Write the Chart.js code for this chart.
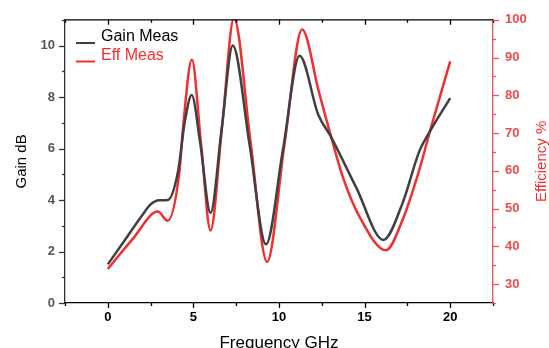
<!DOCTYPE html>
<html>
<head>
<meta charset="utf-8">
<script src="https://cdn.jsdelivr.net/npm/chart.js@4.4.1/dist/chart.umd.min.js"></script>
<style>
html,body{margin:0;padding:0;background:#fff;}
#wrap{width:549px;height:348px;}
</style>
</head>
<body>
<div id="wrap"><canvas id="c" width="549" height="348"></canvas></div>
<script>
// ---- data ----
const freqGain = [0, 1, 2, 2.5, 3, 3.5, 4.1, 4.5, 4.9, 5.4, 6.0, 6.65, 7.3, 8.28, 9.24, 10.23, 11.2, 12.3, 13.0, 14.5, 16.1, 17.2, 18.2, 18.8, 20];
const gainVals = [1.5, 2.45, 3.4, 3.83, 3.99, 4.0, 5.1, 7.05, 8.08, 6.2, 3.5, 6.75, 10.0, 6.15, 2.28, 5.95, 9.6, 7.3, 6.5, 4.5, 2.45, 3.85, 5.9, 6.65, 7.96];
const freqEff = [0, 1.46, 2.92, 3.5, 4.19, 4.4, 4.91, 5.45, 6.0, 6.68, 7.37, 8.33, 9.3, 10.32, 11.35, 12.33, 12.96, 13.74, 14.72, 16.25, 17.2, 18.23, 18.81, 20];
const effVals = [34, 42, 49.2, 46.8, 60, 71.7, 89.4, 67, 44.2, 72, 100.5, 68, 35.9, 67, 97.4, 80.9, 70.4, 58.2, 47.7, 39, 46.8, 60.8, 70.4, 89];
const xTicks = [0, 5, 10, 15, 20];
const gainTicks = [0, 2, 4, 6, 8, 10];
const effTicks = [30, 40, 50, 60, 70, 80, 90, 100];
const seriesNames = ['Gain Meas', 'Eff Meas'];
const xTitle = 'Frequency GHz';
const yTitle = 'Gain dB';
const y1Title = 'Efficiency %';

const FONT = "'Liberation Sans', Arial, sans-serif";
const GAIN_COLOR = '#404040';
const EFF_COLOR = '#f03030';
const AXIS_RED = '#ee5555';

const toPts = (xs, ys) => xs.map((x, i) => ({x: x, y: ys[i]}));
const setTicks = vals => scale => { scale.ticks = vals.map(v => ({value: v})); };

const decor = {
  id: 'decor',
  afterDraw(chart) {
    const ctx = chart.ctx;
    const a = chart.chartArea;
    const xs = chart.scales.x, ys = chart.scales.y, y1 = chart.scales.y1;
    ctx.save();
    ctx.lineWidth = 1.3;
    // top border
    ctx.strokeStyle = '#000';
    ctx.beginPath(); ctx.moveTo(a.left, a.top); ctx.lineTo(a.right, a.top); ctx.stroke();
    // x ticks (bottom outward, top inward)
    for (let v = -2.5; v <= 22.5 + 1e-9; v += 2.5) {
      const px = Math.round(xs.getPixelForValue(v)) + 0.5;
      const len = (Math.abs(v % 5) < 1e-9) ? 5 : 3;
      ctx.beginPath();
      ctx.moveTo(px, a.bottom); ctx.lineTo(px, a.bottom + len);
      ctx.moveTo(px, a.top); ctx.lineTo(px, a.top + len);
      ctx.stroke();
    }
    // left ticks
    ctx.strokeStyle = '#333';
    for (let v = 0; v <= 11; v += 1) {
      const py = Math.round(ys.getPixelForValue(v)) + 0.5;
      const len = (v % 2 === 0) ? 6 : 3;
      ctx.beginPath(); ctx.moveTo(a.left - len, py); ctx.lineTo(a.left, py); ctx.stroke();
    }
    // right ticks
    ctx.strokeStyle = AXIS_RED;
    for (let v = 25; v <= 100; v += 5) {
      const py = Math.round(y1.getPixelForValue(v)) + 0.5;
      const len = (v % 10 === 0) ? 6 : 3;
      ctx.beginPath(); ctx.moveTo(a.right, py); ctx.lineTo(a.right + len, py); ctx.stroke();
    }
    // right axis title (reads bottom to top)
    ctx.fillStyle = EFF_COLOR;
    ctx.font = '15px ' + FONT;
    ctx.textAlign = 'center';
    ctx.textBaseline = 'middle';
    ctx.translate(542, (a.top + a.bottom) / 2);
    ctx.rotate(-Math.PI / 2);
    ctx.fillText(y1Title, 0, 0);
    ctx.restore();

    // legend
    ctx.save();
    ctx.lineWidth = 2;
    ctx.font = '16px ' + FONT;
    ctx.textAlign = 'left';
    ctx.textBaseline = 'middle';
    const items = [[seriesNames[0], GAIN_COLOR, '#000', 43, 37], [seriesNames[1], EFF_COLOR, EFF_COLOR, 61.5, 55.5]];
    items.forEach(it => {
      ctx.strokeStyle = it[1];
      ctx.beginPath(); ctx.moveTo(76, it[3]); ctx.lineTo(95, it[3]); ctx.stroke();
      ctx.fillStyle = it[2];
      ctx.fillText(it[0], 101, it[4]);
    });
    ctx.restore();
  }
};

new Chart(document.getElementById('c'), {
  type: 'line',
  data: {
    datasets: [
      {label: seriesNames[0], data: toPts(freqGain, gainVals), yAxisID: 'y', borderColor: GAIN_COLOR, borderWidth: 2.5, pointRadius: 0, fill: false, cubicInterpolationMode: 'monotone'},
      {label: seriesNames[1], data: toPts(freqEff, effVals), yAxisID: 'y1', borderColor: EFF_COLOR, borderWidth: 2.5, pointRadius: 0, fill: false, cubicInterpolationMode: 'monotone'}
    ]
  },
  options: {
    responsive: false,
    animation: false,
    layout: {padding: {left: 0, right: 0, top: 17, bottom: 0}},
    plugins: {legend: {display: false}, tooltip: {enabled: false}},
    scales: {
      x: {
        type: 'linear', position: 'bottom', min: -2.5, max: 22.5,
        afterBuildTicks: setTicks(xTicks),
        afterFit: s => { s.height = 45; },
        grid: {display: false, drawTicks: false},
        border: {display: true, color: '#000', width: 1.3},
        ticks: {color: '#000', font: {family: FONT, size: 13, weight: 'bold'}, padding: 7, maxRotation: 0, autoSkip: false},
        title: {display: true, text: xTitle, color: '#000', font: {family: FONT, size: 17, lineHeight: 0.6}, padding: {top: 0, bottom: 0}}
      },
      y: {
        type: 'linear', position: 'left', min: 0, max: 11,
        afterBuildTicks: setTicks(gainTicks),
        afterFit: s => { s.width = 65; },
        grid: {display: false, drawTicks: false},
        border: {display: true, color: '#333', width: 1.3},
        ticks: {color: '#555', font: {family: FONT, size: 13, weight: 'bold'}, padding: 10},
        title: {display: true, text: yTitle, color: '#000', font: {family: FONT, size: 15, lineHeight: 1.2}, padding: {top: 13, bottom: 0}}
      },
      y1: {
        type: 'linear', position: 'right', min: 25, max: 100,
        afterBuildTicks: setTicks(effTicks),
        afterFit: s => { s.width = 56; },
        grid: {display: false, drawTicks: false},
        border: {display: true, color: AXIS_RED, width: 1.3},
        ticks: {color: '#ee4b4b', font: {family: FONT, size: 13, weight: 'bold'}, padding: 12}
      }
    }
  },
  plugins: [decor]
});
</script>
</body>
</html>
